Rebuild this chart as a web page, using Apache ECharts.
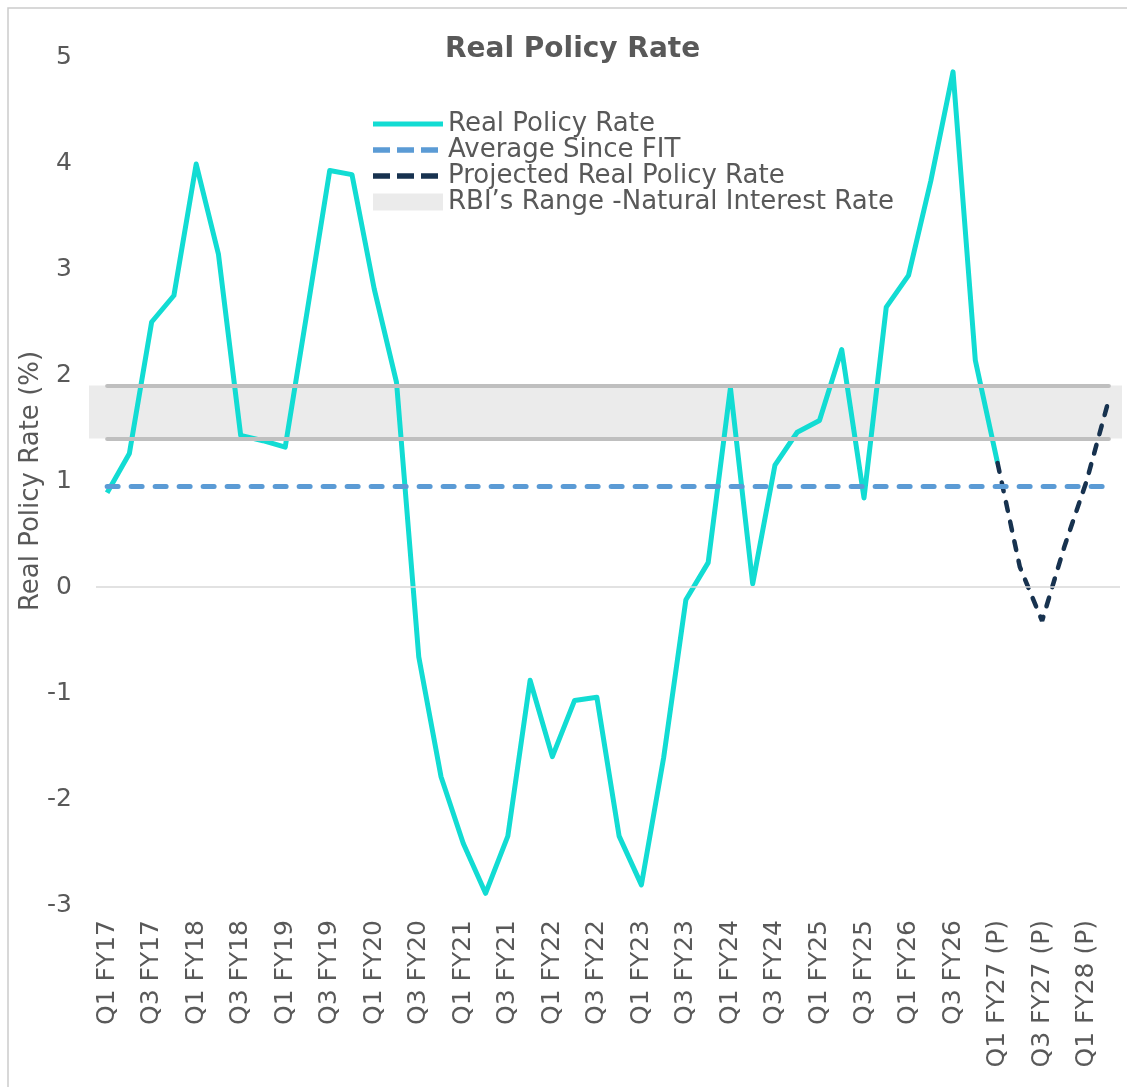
<!DOCTYPE html>
<html>
<head>
<meta charset="utf-8">
<title>Real Policy Rate</title>
<script src="https://cdn.jsdelivr.net/npm/echarts@6/dist/echarts.min.js"></script>
<style>
  html, body { margin: 0; padding: 0; background: #fff; }
  #chart { width: 1127px; height: 1087px; }
</style>
</head>
<body>
<div id="chart"></div>
<script>
// quarters on the x axis
const quarters = [
  'Q1 FY17', 'Q2 FY17', 'Q3 FY17', 'Q4 FY17',
  'Q1 FY18', 'Q2 FY18', 'Q3 FY18', 'Q4 FY18',
  'Q1 FY19', 'Q2 FY19', 'Q3 FY19', 'Q4 FY19',
  'Q1 FY20', 'Q2 FY20', 'Q3 FY20', 'Q4 FY20',
  'Q1 FY21', 'Q2 FY21', 'Q3 FY21', 'Q4 FY21',
  'Q1 FY22', 'Q2 FY22', 'Q3 FY22', 'Q4 FY22',
  'Q1 FY23', 'Q2 FY23', 'Q3 FY23', 'Q4 FY23',
  'Q1 FY24', 'Q2 FY24', 'Q3 FY24', 'Q4 FY24',
  'Q1 FY25', 'Q2 FY25', 'Q3 FY25', 'Q4 FY25',
  'Q1 FY26', 'Q2 FY26', 'Q3 FY26', 'Q4 FY26',
  'Q1 FY27 (P)', 'Q2 FY27 (P)', 'Q3 FY27 (P)', 'Q4 FY27 (P)',
  'Q1 FY28 (P)', 'Q2 FY28 (P)'
];

// real policy rate, Q1 FY17 .. Q1 FY27
const realPolicyRate = [
  0.89, 1.26, 2.50, 2.75, 3.99, 3.14, 1.43, 1.38,
  1.32, 2.62, 3.93, 3.89, 2.81, 1.93, -0.66, -1.79,
  -2.42, -2.89, -2.35, -0.88, -1.60, -1.07, -1.04, -2.35,
  -2.81, -1.61, -0.12, 0.23, 1.88, 0.03, 1.15, 1.46,
  1.57, 2.24, 0.84, 2.64, 2.94, 3.83, 4.86, 2.14,
  1.17
];

// projection, Q1 FY27 (P) .. Q2 FY28 (P)
const projectedRate = [1.17, 0.19, -0.32, 0.38, 1.00, 1.77];
const projectedStart = 40;

const averageSinceFIT = 0.95;
const rbiRangeLow = 1.4;
const rbiRangeHigh = 1.9;

const yTicks = { min: -3, max: 5, step: 1 };

const actualData = quarters.map((q, i) => (i < realPolicyRate.length ? realPolicyRate[i] : null));
const projectedData = quarters.map((q, i) =>
  i >= projectedStart && i - projectedStart < projectedRate.length ? projectedRate[i - projectedStart] : null
);

const FONT = '"DejaVu Sans", "Open Sans", sans-serif';
const TEXT = '#595959';
const TEAL = '#12dcd3';
const BLUE = '#5b9bd5';
const NAVY = '#17324f';

// legend glyphs (the two M points fix the icon box at 70x17)
const solidIcon = 'path://M0,0M70,17M0,6h70v5h-70z';
const dashIcon = 'path://M0,0M70,17M0,5.75h17v5.5h-17zM24,5.75h17v5.5h-17zM48,5.75h17v5.5h-17z';

const chart = echarts.init(document.getElementById('chart'));

const option = {
  backgroundColor: '#fff',
  animation: false,
  textStyle: { fontFamily: FONT },
  graphic: [
    {
      type: 'rect',
      silent: true,
      z: -10,
      shape: { x: 8, y: 8, width: 1300, height: 1300 },
      style: { fill: 'none', stroke: '#cbcbcb', lineWidth: 1.5 }
    }
  ],
  title: {
    text: 'Real Policy Rate',
    left: 440,
    top: 31,
    textStyle: { color: TEXT, fontSize: 28, fontWeight: 'bold', fontFamily: FONT }
  },
  legend: {
    orient: 'vertical',
    left: 368,
    top: 106,
    itemWidth: 70,
    itemHeight: 17,
    itemGap: 0,
    selectedMode: false,
    textStyle: { color: TEXT, fontSize: 26, lineHeight: 26, fontFamily: FONT },
    data: [
      { name: 'Real Policy Rate', icon: solidIcon, itemStyle: { color: TEAL } },
      { name: 'Average Since FIT', icon: dashIcon, itemStyle: { color: BLUE } },
      { name: 'Projected Real Policy Rate', icon: dashIcon, itemStyle: { color: NAVY } },
      { name: 'RBI’s Range -Natural Interest Rate', icon: 'rect', itemStyle: { color: '#ebebeb' } }
    ]
  },
  grid: { left: 96, right: 7, top: 57, bottom: 182 },
  xAxis: {
    type: 'category',
    data: quarters,
    boundaryGap: true,
    axisLine: { show: false },
    axisTick: { show: false },
    axisLabel: { rotate: 90, interval: 1, fontSize: 25, color: TEXT, margin: 15 }
  },
  yAxis: {
    type: 'value',
    min: yTicks.min,
    max: yTicks.max,
    interval: yTicks.step,
    splitLine: { show: false },
    axisLine: { show: false },
    axisTick: { show: false },
    axisLabel: { fontSize: 25, color: TEXT, margin: 24 },
    name: 'Real Policy Rate (%)',
    nameLocation: 'middle',
    nameMoveOverlap: false,
    nameGap: 52,
    nameTextStyle: { fontSize: 26, color: TEXT }
  },
  series: [
    {
      name: 'range-bounds',
      type: 'line',
      data: [],
      z: 1,
      markLine: {
        silent: true,
        symbol: 'none',
        label: { show: false },
        lineStyle: { color: '#bfbfbf', width: 4, type: 'solid', cap: 'round' },
        data: [
          [{ coord: [quarters[0], rbiRangeHigh] }, { coord: [quarters[quarters.length - 1], rbiRangeHigh] }],
          [{ coord: [quarters[0], rbiRangeLow] }, { coord: [quarters[quarters.length - 1], rbiRangeLow] }]
        ]
      }
    },
    {
      name: 'Real Policy Rate',
      type: 'line',
      data: actualData,
      z: 2,
      symbol: 'none',
      itemStyle: { color: TEAL },
      lineStyle: { color: TEAL, width: 5, join: 'round' },
      markLine: {
        silent: true,
        symbol: 'none',
        label: { show: false },
        lineStyle: { color: '#d9d9d9', width: 1.5, type: 'solid' },
        data: [{ yAxis: 0 }]
      }
    },
    {
      name: 'Average Since FIT',
      type: 'line',
      data: [],
      z: 3,
      symbol: 'none',
      itemStyle: { color: BLUE },
      lineStyle: { color: BLUE, width: 5, type: [11, 13], cap: 'round' },
      markLine: {
        silent: true,
        symbol: 'none',
        label: { show: false },
        lineStyle: { color: BLUE, width: 5, type: [11, 13], cap: 'round' },
        data: [
          [{ coord: [quarters[0], averageSinceFIT] }, { coord: [quarters[quarters.length - 1], averageSinceFIT] }]
        ]
      }
    },
    {
      name: 'Projected Real Policy Rate',
      type: 'line',
      data: projectedData,
      z: 3,
      symbol: 'none',
      itemStyle: { color: NAVY },
      lineStyle: { color: NAVY, width: 4.5, type: [9, 11], cap: 'round' }
    },
    {
      name: 'RBI’s Range -Natural Interest Rate',
      type: 'line',
      data: [],
      z: 5,
      symbol: 'none',
      itemStyle: { color: '#ebebeb' },
      lineStyle: { color: '#ebebeb' },
      markArea: {
        silent: true,
        itemStyle: { color: 'rgba(163,163,163,0.22)' },
        data: [[{ x: 89, yAxis: rbiRangeHigh }, { x: 1122, yAxis: rbiRangeLow }]]
      }
    }
  ]
};

chart.setOption(option);
</script>
</body>
</html>
